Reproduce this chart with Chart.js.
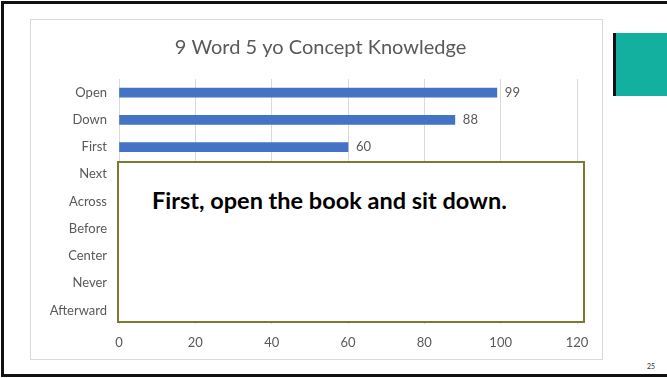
<!DOCTYPE html>
<html lang="en">
<head>
    <meta charset="UTF-8">
    <title>9 Word 5 yo Concept Knowledge</title>
    <script src="https://cdn.jsdelivr.net/npm/chart.js"></script>
    <style>
        body {
            margin: 0;
            width: 667px;
            height: 378px;
            overflow: hidden;
            background: #fff;
            position: relative;
            font-family: Lato, "Open Sans", sans-serif;
        }

        /* slide frame */
        .slide-border {
            position: absolute;
            left: 1px;
            top: 1px;
            width: 680px;
            height: 370px;
            border: 3px solid #111;
        }

        .chart-box {
            position: absolute;
            left: 30px;
            top: 19px;
            width: 571px;
            height: 339px;
            border: 1px solid #d9d9d9;
        }

        .accent {
            position: absolute;
            left: 613px;
            top: 33px;
            width: 54px;
            height: 63px;
            background: #13b09f;
            border-left: 3px solid #111;
            box-sizing: border-box;
        }

        /* text box laid over the lower bars */
        .callout {
            position: absolute;
            left: 117px;
            top: 161px;
            width: 464px;
            height: 158px;
            background: #fff;
            border: 2px solid #7a7a32;
        }

        .callout p {
            margin: 0;
            position: absolute;
            left: 33px;
            top: 23px;
            font-weight: bold;
            font-size: 23.5px;
            color: #000;
            white-space: nowrap;
        }

        .page-num {
            position: absolute;
            left: 647px;
            top: 362px;
            font-size: 7px;
            color: #333;
        }
    </style>
</head>
<body>
    <div class="slide-border"></div>

    <div class="chart-box">
        <canvas id="plot" width="571" height="339"></canvas>
    </div>

    <div class="accent"></div>

    <div class="callout">
        <p>First, open the book and sit down.</p>
    </div>

    <div class="page-num">25</div>

    <script>
        const words = ['Open', 'Down', 'First', 'Next', 'Across', 'Before', 'Center', 'Never', 'Afterward'];
        // the last six are hidden behind the text box, rough guesses only
        const scores = [99, 88, 60, 55, 45, 40, 32, 25, 15];
        const xTicks = [0, 20, 40, 60, 80, 100, 120];
        const chartTitle = '9 Word 5 yo Concept Knowledge';

        const grey = '#595959';

        // value labels at the end of each bar
        const barLabels = {
            id: 'barLabels',
            afterDatasetsDraw(chart) {
                const ctx = chart.ctx;
                const meta = chart.getDatasetMeta(0);
                ctx.save();
                ctx.font = '13px Lato, sans-serif';
                ctx.fillStyle = grey;
                ctx.textBaseline = 'middle';
                meta.data.forEach((bar, i) => {
                    ctx.fillText(scores[i], bar.x + 8, bar.y);
                });
                ctx.restore();
            }
        };

        // title sits a touch right of the box centre, like the Excel original
        const boxTitle = {
            id: 'boxTitle',
            afterDraw(chart) {
                const ctx = chart.ctx;
                ctx.save();
                ctx.font = '20px Lato, sans-serif';
                ctx.fillStyle = grey;
                ctx.textAlign = 'center';
                ctx.textBaseline = 'middle';
                ctx.fillText(chartTitle, chart.width / 2 + 4, 28);
                ctx.restore();
            }
        };

        const ctx = document.getElementById('plot').getContext('2d');
        new Chart(ctx, {
            type: 'bar',
            data: {
                labels: words,
                datasets: [{
                    data: scores,
                    backgroundColor: '#4472c4',
                    barThickness: 9
                }]
            },
            options: {
                indexAxis: 'y',
                responsive: false,
                animation: false,
                layout: { padding: { top: 59, right: 25, left: 0, bottom: 0 } },
                plugins: {
                    legend: { display: false },
                    tooltip: { enabled: false },
                    title: { display: false }
                },
                scales: {
                    x: {
                        min: 0,
                        max: 120,
                        afterBuildTicks: (scale) => {
                            scale.ticks = xTicks.map(v => ({ value: v }));
                        },
                        afterFit: (scale) => { scale.height = 35; },
                        grid: { color: '#d9d9d9', drawTicks: false },
                        border: { display: false },
                        ticks: { color: grey, padding: 11, font: { family: 'Lato', size: 13 } }
                    },
                    y: {
                        afterFit: (scale) => { scale.width = 88; },
                        grid: { display: false, drawTicks: false },
                        border: { display: false },
                        ticks: { color: grey, padding: 12, font: { family: 'Lato', size: 13 } }
                    }
                }
            },
            plugins: [barLabels, boxTitle]
        });
    </script>
</body>
</html>
